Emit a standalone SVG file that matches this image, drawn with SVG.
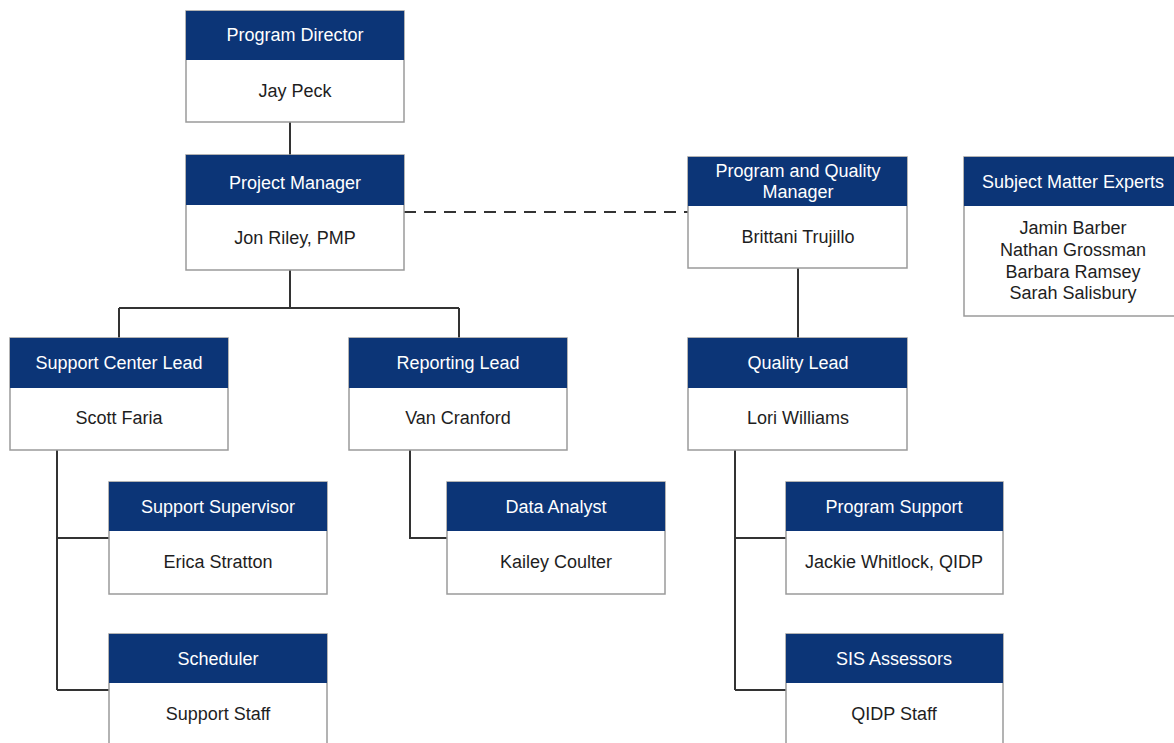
<svg xmlns="http://www.w3.org/2000/svg" width="1174" height="743" viewBox="0 0 1174 743">
<style>
.hd{fill:#0c3577}
.bd{fill:#fff;stroke:#9a9a9a;stroke-width:1.5}
.ht{font-family:"Liberation Sans",Arial,sans-serif;font-size:18px;fill:#fff;text-anchor:middle}
.bt{font-family:"Liberation Sans",Arial,sans-serif;font-size:18px;fill:#1e1e1e;text-anchor:middle}
.ln{fill:none;stroke:#333;stroke-width:2}
.dl{fill:none;stroke:#333;stroke-width:2;stroke-dasharray:12 8}
</style>
<rect width="1174" height="743" fill="#fff"/>
<g id="connectors">
<path class="ln" d="M290 122V155"/>
<path class="ln" d="M290 270V308M119 308H459M119 308V338M459 308V338"/>
<path class="dl" d="M404 212H689"/>
<path class="ln" d="M798 268V338"/>
<path class="ln" d="M57 450V690M57 538H109M57 690H109"/>
<path class="ln" d="M410 450V538H447"/>
<path class="ln" d="M735 450V690M735 538H786M735 690H786"/>
</g>
<g id="program-director">
<rect class="bd" x="186" y="11" width="218" height="111"/>
<rect class="hd" x="186" y="11" width="218" height="49"/>
<text class="ht" x="295" y="41">Program Director</text>
<text class="bt" x="295" y="97">Jay Peck</text>
</g>
<g id="project-manager">
<rect class="bd" x="186" y="155" width="218" height="115"/>
<rect class="hd" x="186" y="155" width="218" height="50"/>
<text class="ht" x="295" y="189">Project Manager</text>
<text class="bt" x="295" y="244">Jon Riley, PMP</text>
</g>
<g id="program-quality-manager">
<rect class="bd" x="688" y="157" width="219" height="111"/>
<rect class="hd" x="688" y="157" width="219" height="49"/>
<text class="ht" x="798" y="177">Program and Quality</text>
<text class="ht" x="798" y="198">Manager</text>
<text class="bt" x="798" y="243">Brittani Trujillo</text>
</g>
<g id="subject-matter-experts">
<rect class="bd" x="964" y="157" width="212" height="159"/>
<rect class="hd" x="964" y="157" width="212" height="49"/>
<text class="ht" x="1073" y="188">Subject Matter Experts</text>
<text class="bt" x="1073" y="234">Jamin Barber</text>
<text class="bt" x="1073" y="256">Nathan Grossman</text>
<text class="bt" x="1073" y="278">Barbara Ramsey</text>
<text class="bt" x="1073" y="299">Sarah Salisbury</text>
</g>
<g id="support-center-lead">
<rect class="bd" x="10" y="338" width="218" height="112"/>
<rect class="hd" x="10" y="338" width="218" height="50"/>
<text class="ht" x="119" y="369">Support Center Lead</text>
<text class="bt" x="119" y="424">Scott Faria</text>
</g>
<g id="reporting-lead">
<rect class="bd" x="349" y="338" width="218" height="112"/>
<rect class="hd" x="349" y="338" width="218" height="50"/>
<text class="ht" x="458" y="369">Reporting Lead</text>
<text class="bt" x="458" y="424">Van Cranford</text>
</g>
<g id="quality-lead">
<rect class="bd" x="688" y="338" width="219" height="112"/>
<rect class="hd" x="688" y="338" width="219" height="50"/>
<text class="ht" x="798" y="369">Quality Lead</text>
<text class="bt" x="798" y="424">Lori Williams</text>
</g>
<g id="support-supervisor">
<rect class="bd" x="109" y="482" width="218" height="112"/>
<rect class="hd" x="109" y="482" width="218" height="49"/>
<text class="ht" x="218" y="513">Support Supervisor</text>
<text class="bt" x="218" y="568">Erica Stratton</text>
</g>
<g id="data-analyst">
<rect class="bd" x="447" y="482" width="218" height="112"/>
<rect class="hd" x="447" y="482" width="218" height="49"/>
<text class="ht" x="556" y="513">Data Analyst</text>
<text class="bt" x="556" y="568">Kailey Coulter</text>
</g>
<g id="program-support">
<rect class="bd" x="786" y="482" width="217" height="112"/>
<rect class="hd" x="786" y="482" width="217" height="49"/>
<text class="ht" x="894" y="513">Program Support</text>
<text class="bt" x="894" y="568">Jackie Whitlock, QIDP</text>
</g>
<g id="scheduler">
<rect class="bd" x="109" y="634" width="218" height="120"/>
<rect class="hd" x="109" y="634" width="218" height="49"/>
<text class="ht" x="218" y="665">Scheduler</text>
<text class="bt" x="218" y="720">Support Staff</text>
</g>
<g id="sis-assessors">
<rect class="bd" x="786" y="634" width="217" height="120"/>
<rect class="hd" x="786" y="634" width="217" height="49"/>
<text class="ht" x="894" y="665">SIS Assessors</text>
<text class="bt" x="894" y="720">QIDP Staff</text>
</g>
</svg>
